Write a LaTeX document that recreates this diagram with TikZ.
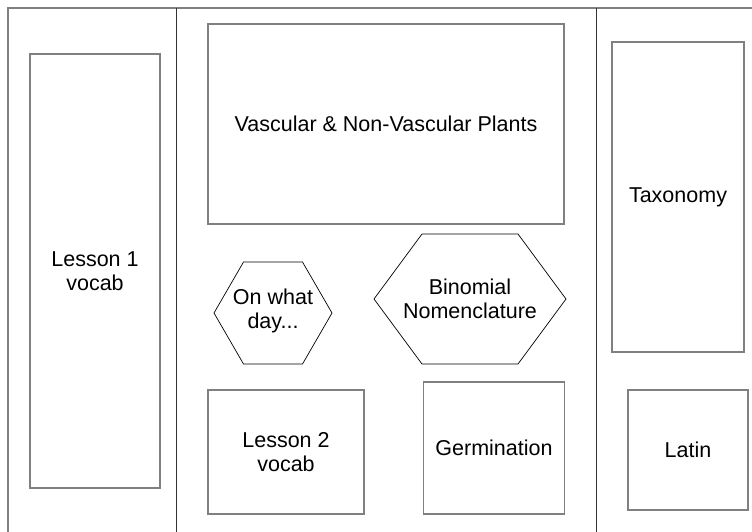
\documentclass[tikz,border=0pt]{standalone}
\usepackage{fontspec}
\setmainfont{Liberation Sans}
\begin{document}
\begin{tikzpicture}[x=1pt,y=-1pt]
  \tikzstyle{box}=[draw=black!50,line width=1.2pt,align=center,inner sep=2pt]
  \tikzstyle{rule}=[draw=black!80,line width=1pt]
  \tikzstyle{hexline}=[draw=black,line width=0.7pt]
  \tikzstyle{label}=[align=center,inner sep=0pt]
  \clip (0,0) rectangle (752,532);
  \fontsize{21.5}{24}\selectfont
  % frame and columns
  \draw[draw=black!50,line width=1.2pt] (8,8) rectangle (770,550);
  \coordinate (lefttop) at (176,8);
  \coordinate (leftbot) at (176,532);
  \coordinate (righttop) at (596,8);
  \coordinate (rightbot) at (596,532);
  \draw[rule] (lefttop) -- (leftbot);
  \draw[rule] (righttop) -- (rightbot);
  % boxes
  \node[box,minimum width=130,minimum height=434] (lesson1) at (95,271) {Lesson 1\\vocab};
  \node[box,minimum width=356,minimum height=200] (vascular) at (386,124) {Vascular \& Non-Vascular Plants};
  \node[box,minimum width=156,minimum height=124] (lesson2) at (286,452) {Lesson 2\\vocab};
  \node[box,minimum width=141,minimum height=132] (germination) at (494,448) {Germination};
  \node[box,minimum width=132,minimum height=310] (taxonomy) at (678,197) {Taxonomy};
  \node[box,minimum width=120,minimum height=120] (latin) at (688,450) {Latin};
  % hexagons
  \node[label] (whatday) at (273,311) {On what\\day...};
  \node[label] (binomial) at (470,299) {Binomial\\Nomenclature};
  \draw[hexline] (whatday.center) ++(-59,2) -- ++(29.5,-51) -- ++(59,0) -- ++(29.5,51)
    -- ++(-29.5,51) -- ++(-59,0) -- cycle;
  \draw[hexline] (binomial.center) ++(-96,0) -- ++(48,-65) -- ++(96,0) -- ++(48,65)
    -- ++(-48,65) -- ++(-96,0) -- cycle;
\end{tikzpicture}
\end{document}
